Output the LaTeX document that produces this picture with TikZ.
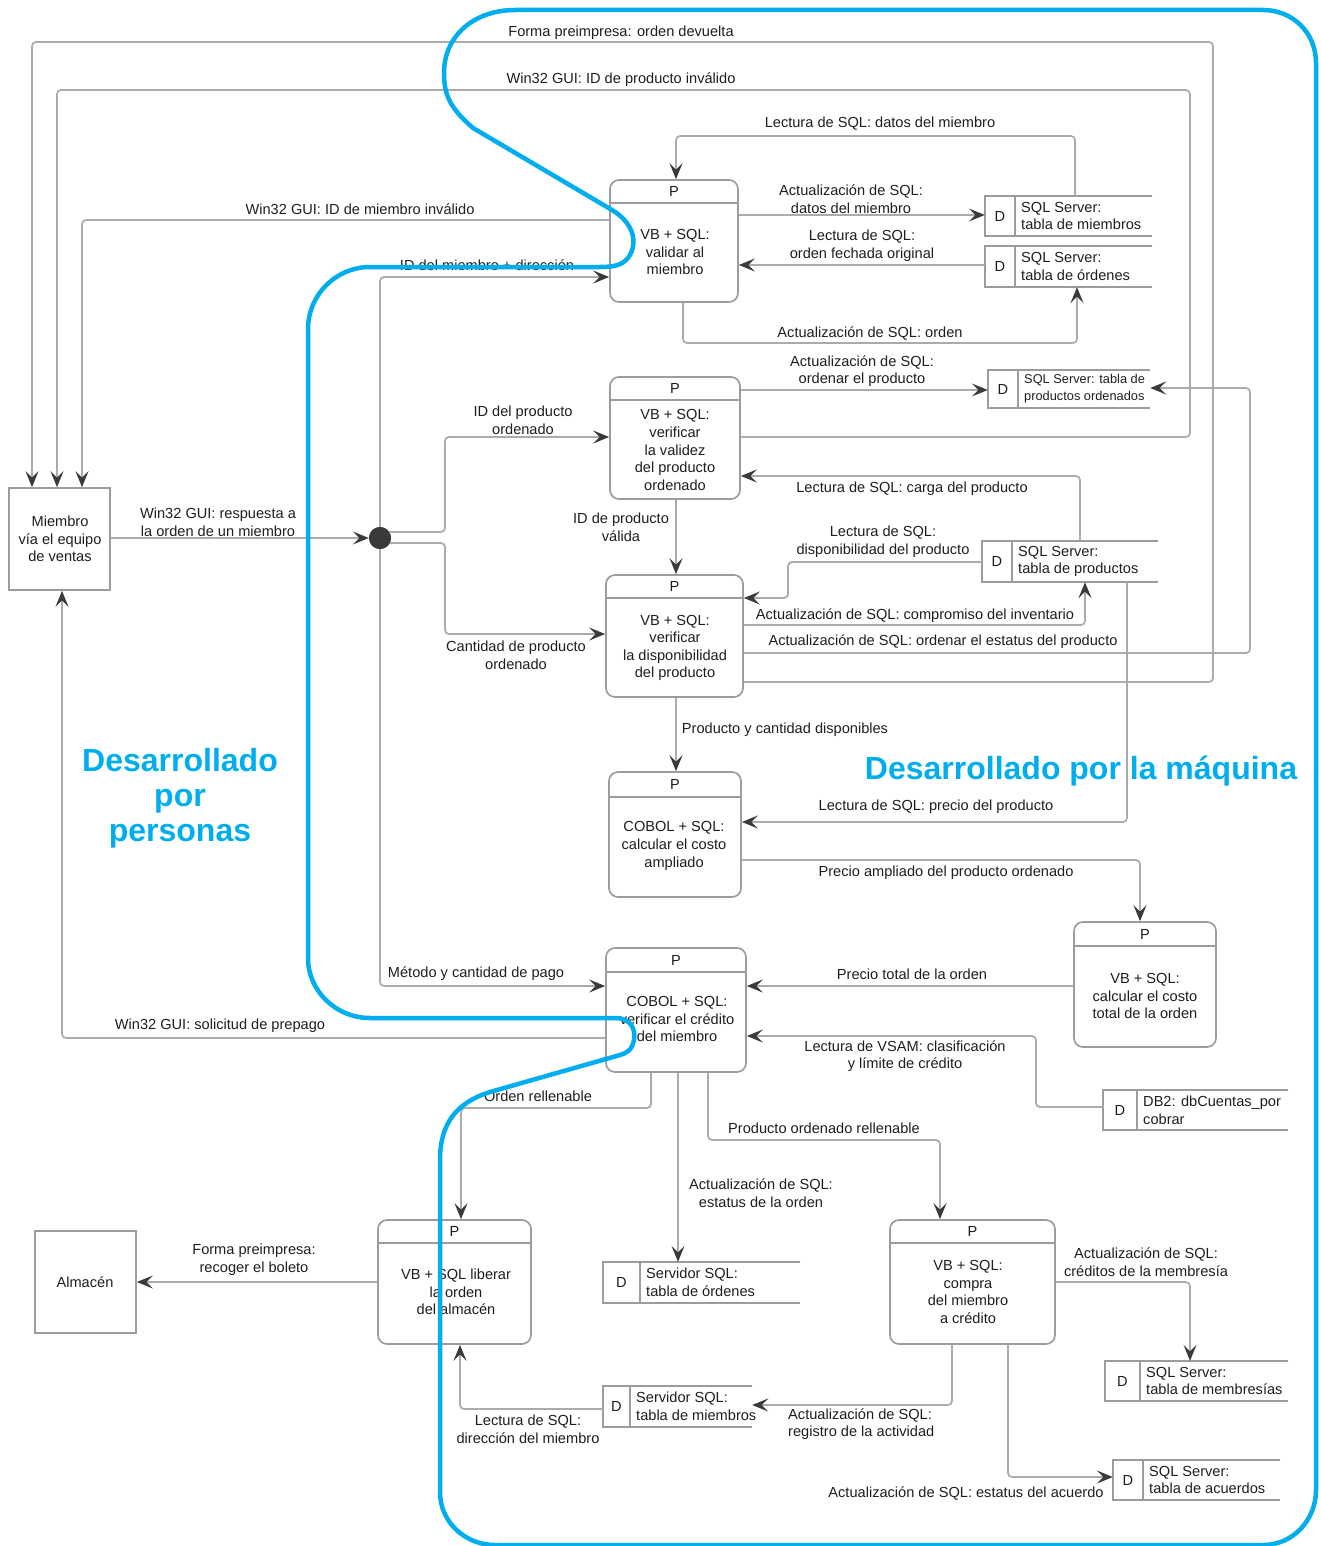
\documentclass[tikz,border=0pt]{standalone}
\usepackage{fontspec}
\setmainfont{Liberation Sans}
\usetikzlibrary{arrows.meta,calc,fit}
\definecolor{lgray}{HTML}{ABABAB}
\definecolor{bgray}{HTML}{9C9C9C}
\definecolor{tipgray}{HTML}{3A3A3A}
\definecolor{txt}{HTML}{1E1E1E}
\definecolor{cyanb}{HTML}{00AEEF}
\newcommand\procbox[7]{%
  \node[proc, fit={(#2,#3) (#4,#5)}] (#1) {};
  \draw[hdr] (#2,#6) -- (#4,#6);
  \node[inner sep=0pt] (#1p) at ({(#2+#4)/2},{(#3+#6)/2}) {P};
}
\newcommand\storebox[8]{%
  \node[inner sep=0pt, fit={(#2,#3) (#4,#5)}] (#1) {};
  \draw[stline] (#4,#3) -- (#2,#3) -- (#2,#5) -- (#4,#5);
  \draw[stline] (#6,#3) -- (#6,#5);
  \node[inner sep=0pt] (#1d) at ({(#2+#6)/2},{(#3+#5)/2}) {D};
  \node[align=left, anchor=west, inner sep=0pt, font=#8] (#1t) at ({#6+6},{(#3+#5)/2}) {#7};
}
\begin{document}
\begin{tikzpicture}[x=1pt,y=-1pt,
  every node/.style={font=\fontsize{14.6}{17.6}\selectfont, text=txt},
  lbl/.style={inner sep=0pt, align=center},
  flow/.style={draw=lgray, line width=1.7pt, rounded corners=4pt, -{Stealth[length=16pt,width=13pt,inset=6.5pt,color=tipgray]}},
  proc/.style={draw=bgray, line width=1.7pt, rounded corners=9pt, fill=white, inner sep=0pt},
  ext/.style={draw=bgray, line width=1.7pt, inner sep=0pt},
  hdr/.style={draw=bgray, line width=1.7pt},
  stline/.style={draw=bgray, line width=1.7pt},
  bluetxt/.style={font=\fontsize{32}{35}\selectfont\bfseries, text=cyanb, align=center, inner sep=0pt},
  boundary/.style={draw=cyanb, line width=4.5pt, line join=round},
]
\useasboundingbox (0,0) rectangle (1320,1546);

% external entities
\node[ext, fit={(9,488) (110,590)}] (m) {};
\node[lbl] (mt) at (60,539) {Miembro\\vía el equipo\\de ventas};
\node[ext, fit={(35,1231) (136,1333)}] (alm) {};
\node[lbl] (almt) at (85,1282) {Almacén};

% junction
\node[circle, fill=tipgray, minimum size=22pt, inner sep=0pt] (dot) at (380,538) {};

% processes
\procbox{p1}{610}{180}{738}{302}{203}{}
\node[lbl] (p1t) at (675,252) {VB + SQL:\\validar al\\miembro};
\procbox{p2}{610}{377}{740}{499}{400}{}
\node[lbl] (p2t) at (675,450) {VB + SQL:\\verificar\\la validez\\del producto\\ordenado};
\procbox{p3}{606}{575}{743}{697}{598}{}
\node[lbl] (p3t) at (675,648) {VB + SQL:\\verificar\\la disponibilidad\\del producto};
\procbox{p4}{609}{772}{741}{897}{797}{}
\node[lbl] (p4t) at (674,846) {COBOL + SQL:\\calcular el costo\\ampliado};
\procbox{p5}{1074}{922}{1216}{1047}{946}{}
\node[lbl] (p5t) at (1145,996) {VB + SQL:\\calcular el costo\\total de la orden};
\procbox{p6}{606}{948}{746}{1072}{972}{}
\node[lbl] (p6t) at (677,1019) {COBOL + SQL:\\verificar el crédito\\del miembro};
\procbox{p7}{378}{1220}{531}{1344}{1243}{}
\node[lbl] (p7t) at (456,1292) {VB + SQL liberar\\la orden\\del almacén};
\procbox{p8}{890}{1220}{1055}{1344}{1243}{}
\node[lbl] (p8t) at (968,1292) {VB + SQL:\\compra\\del miembro\\a crédito};

% data stores
\storebox{s1}{985}{196}{1152}{236}{1015}{SQL Server:\\tabla de miembros}{\fontsize{14.6}{17.6}\selectfont}
\storebox{s2}{985}{246}{1152}{287}{1015}{SQL Server:\\tabla de órdenes}{\fontsize{14.6}{17.6}\selectfont}
\storebox{s3}{988}{370}{1150}{408}{1018}{SQL Server: tabla de\\productos ordenados}{\fontsize{12.8}{17}\selectfont}
\storebox{s4}{982}{541}{1158}{582}{1012}{SQL Server:\\tabla de productos}{\fontsize{14.6}{17.6}\selectfont}
\storebox{s5}{1103}{1090}{1288}{1130}{1137}{DB2: dbCuentas\_por\\cobrar}{\fontsize{14.6}{17.6}\selectfont}
\storebox{s6}{603}{1262}{800}{1303}{640}{Servidor SQL:\\tabla de órdenes}{\fontsize{14.6}{17.6}\selectfont}
\storebox{s7}{603}{1386}{752}{1427}{630}{Servidor SQL:\\tabla de miembros}{\fontsize{14.6}{17.6}\selectfont}
\storebox{s8}{1105}{1361}{1288}{1401}{1140}{SQL Server:\\tabla de membresías}{\fontsize{14.6}{17.6}\selectfont}
\storebox{s9}{1113}{1460}{1280}{1500}{1143}{SQL Server:\\tabla de acuerdos}{\fontsize{14.6}{17.6}\selectfont}

% connectors
\draw[flow] (p3.east |- 0,682) -- (1213,682) -- (1213,42) -- (32,42) -- (m.north -| 32,0);
\draw[flow] (p2.east |- 0,437) -- (1190,437) -- (1190,90) -- (57,90) -- (m.north -| 57,0);
\draw[flow] (p1.west |- 0,220) -- (82,220) -- (m.north -| 82,0);
\draw[flow] (m.east |- 0,538) -- (dot.west);
\draw[flow] (dot.center) -- (380,277) -- (p1.west |- 0,277);
\draw[flow] (dot.center |- 0,532) -- (445,532) -- (445,437) -- (p2.west |- 0,437);
\draw[flow] (dot.center |- 0,543) -- (445,543) -- (445,634) -- (p3.west |- 0,634);
\draw[flow] (dot.center) -- (380,986) -- (p6.west |- 0,986);
\draw[flow] (p6.west |- 0,1038) -- (62,1038) -- (m.south -| 62,0);
\draw[flow] (p1.east |- 0,215) -- (s1.west |- 0,215);
\draw[flow] (s2.west |- 0,265) -- (p1.east |- 0,265);
\draw[flow] (s1.north -| 1075,0) -- (1075,136) -- (676,136) -- (p1.north -| 676,0);
\draw[flow] (p1.south -| 683,0) -- (683,343) -- (1077,343) -- (s2.south -| 1077,0);
\draw[flow] (p2.east |- 0,390) -- (s3.west |- 0,390);
\draw[flow] (s4.north -| 1080,0) -- (1080,476) -- (p2.east |- 0,476);
\draw[flow] (p2.south -| 676,0) -- (p3.north -| 676,0);
\draw[flow] (s4.west |- 0,562) -- (788,562) -- (788,598) -- (p3.east |- 0,598);
\draw[flow] (p3.east |- 0,625) -- (1085,625) -- (s4.south -| 1085,0);
\draw[flow] (p3.east |- 0,653) -- (1250,653) -- (1250,388) -- (s3.east |- 0,388);
\draw[flow] (s4.south -| 1127,0) -- (1127,822) -- (p4.east |- 0,822);
\draw[flow] (p3.south -| 676,0) -- (p4.north -| 676,0);
\draw[flow] (p4.east |- 0,860) -- (1140,860) -- (p5.north -| 1140,0);
\draw[flow] (p5.west |- 0,986) -- (p6.east |- 0,986);
\draw[flow] (s5.west |- 0,1107) -- (1036,1107) -- (1036,1036) -- (p6.east |- 0,1036);
\draw[flow] (p6.south -| 651,0) -- (651,1108) -- (461,1108) -- (p7.north -| 461,0);
\draw[flow] (p6.south -| 678,0) -- (s6.north -| 678,0);
\draw[flow] (p6.south -| 708,0) -- (708,1140) -- (940,1140) -- (p8.north -| 940,0);
\draw[flow] (p7.west |- 0,1282) -- (alm.east |- 0,1282);
\draw[flow] (s7.west |- 0,1409) -- (460,1409) -- (p7.south -| 460,0);
\draw[flow] (p8.east |- 0,1282) -- (1190,1282) -- (s8.north -| 1190,0);
\draw[flow] (p8.south -| 952,0) -- (952,1405) -- (s7.east |- 0,1405);
\draw[flow] (p8.south -| 1008,0) -- (1008,1477) -- (s9.west |- 0,1477);
\fill[tipgray] (dot.center) circle (11pt);

% labels
\node[lbl] (l1) at (621,33) {Forma preimpresa: orden devuelta};
\node[lbl] (l2) at (621,80) {Win32 GUI: ID de producto inválido};
\node[lbl] (l3) at (880,124) {Lectura de SQL: datos del miembro};
\node[lbl] (l4) at (360,209) {Win32 GUI: ID de miembro inválido};
\node[lbl] (l5) at (851,199) {Actualización de SQL:\\datos del miembro};
\node[lbl] (l6) at (862,246) {Lectura de SQL:\\orden fechada original};
\node[lbl] (l7) at (487,265) {ID del miembro + dirección};
\node[lbl] (l8) at (870,334) {Actualización de SQL: orden};
\node[lbl] (l9) at (862,371) {Actualización de SQL:\\ordenar el producto};
\node[lbl] (l10) at (523,420) {ID del producto\\ordenado};
\node[lbl] (l11) at (912,489) {Lectura de SQL: carga del producto};
\node[lbl] (l12) at (218,522) {Win32 GUI: respuesta a\\la orden de un miembro};
\node[lbl] (l13) at (621,527) {ID de producto\\válida};
\node[lbl] (l14) at (883,542) {Lectura de SQL:\\disponibilidad del producto};
\node[lbl] (l15) at (915,616) {Actualización de SQL: compromiso del inventario};
\node[lbl] (l16) at (943,642) {Actualización de SQL: ordenar el estatus del producto};
\node[lbl] (l17) at (516,655) {Cantidad de producto\\ordenado};
\node[lbl] (l18) at (785,730) {Producto y cantidad disponibles};
\node[lbl] (l19) at (936,807) {Lectura de SQL: precio del producto};
\node[lbl] (l20) at (946,873) {Precio ampliado del producto ordenado};
\node[lbl] (l21) at (912,974) {Precio total de la orden};
\node[lbl] (l22) at (476,974) {Método y cantidad de pago};
\node[lbl] (l23) at (220,1026) {Win32 GUI: solicitud de prepago};
\node[lbl] (l24) at (905,1056) {Lectura de VSAM: clasificación\\y límite de crédito};
\node[lbl] (l25) at (538,1096) {Orden rellenable};
\node[lbl] (l26) at (824,1128) {Producto ordenado rellenable};
\node[lbl] (l27) at (761,1193) {Actualización de SQL:\\estatus de la orden};
\node[lbl] (l28) at (254,1260) {Forma preimpresa:\\recoger el boleto};
\node[lbl] (l29) at (1146,1262) {Actualización de SQL:\\créditos de la membresía};
\node[lbl] (l30) at (528,1429) {Lectura de SQL:\\dirección del miembro};
\node[lbl, align=left, anchor=west] (l31) at (788,1424) {Actualización de SQL:\\registro de la actividad};
\node[lbl] (l32) at (966,1493) {Actualización de SQL: estatus del acuerdo};

% boundary
\draw[boundary] (515,10) -- (1263,10)
  .. controls (1293,10) and (1316,33) .. (1316,63)
  -- (1316,1490)
  .. controls (1316,1520) and (1293,1545) .. (1263,1545)
  -- (495,1545)
  .. controls (465,1545) and (440,1522) .. (440,1492)
  -- (440,1160)
  .. controls (440,1125) and (455,1103) .. (490,1092)
  -- (620,1055)
  .. controls (627,1053) and (632,1050) .. (634,1040)
  .. controls (636,1028) and (630,1018) .. (615,1018)
  -- (370,1018)
  .. controls (336,1018) and (308,991) .. (308,958)
  -- (308,329)
  .. controls (308,295) and (336,267) .. (370,267)
  -- (600,267)
  .. controls (615,267) and (624,265) .. (630,255)
  .. controls (638,240) and (632,222) .. (612,210)
  -- (473,128)
  .. controls (450,108) and (444,95) .. (444,73)
  .. controls (444,35) and (475,10) .. (515,10) -- cycle;

\node[bluetxt] (bt1) at (180,798) {Desarrollado\\por\\personas};
\node[bluetxt] (bt2) at (1081,771) {Desarrollado por la máquina};
\end{tikzpicture}
\end{document}
